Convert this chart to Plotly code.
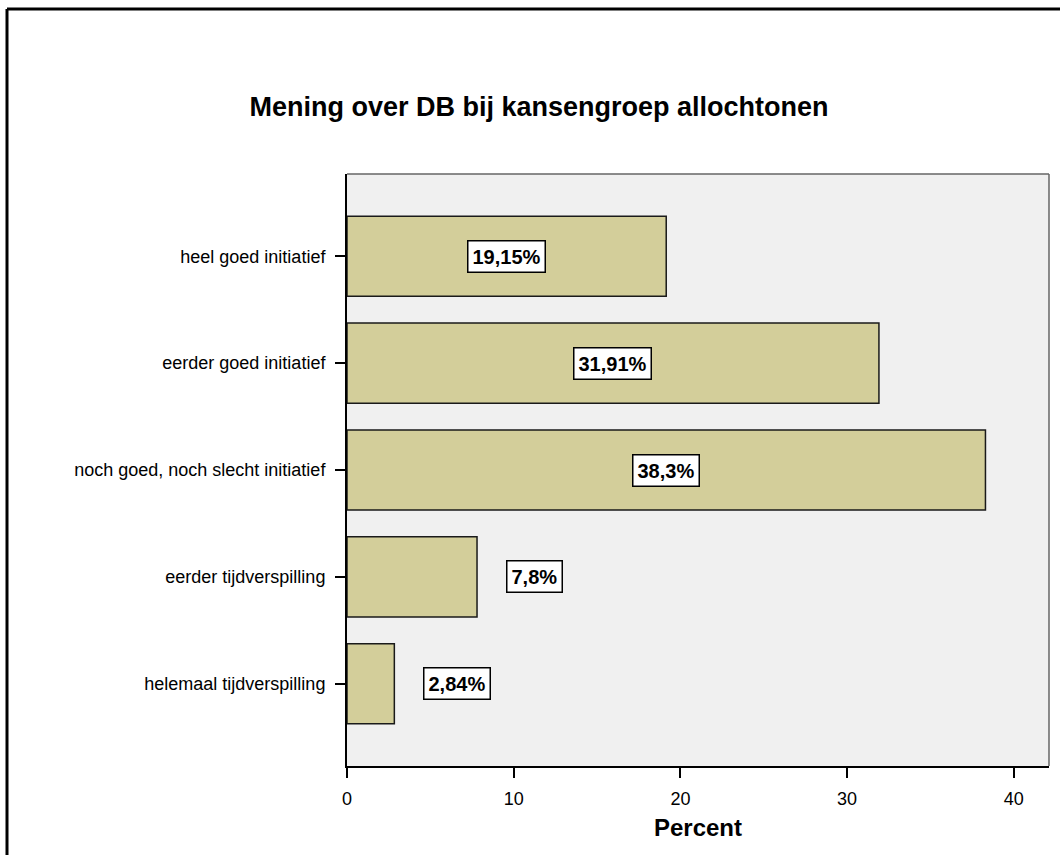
import plotly.graph_objects as go

# Survey answers and their share (percent)
categories = [
    "heel goed initiatief",
    "eerder goed initiatief",
    "noch goed, noch slecht initiatief",
    "eerder tijdverspilling",
    "helemaal tijdverspilling",
]
percent = [19.15, 31.91, 38.3, 7.8, 2.84]
value_labels = ["19,15%", "31,91%", "38,3%", "7,8%", "2,84%"]
x_ticks = [0, 10, 20, 30, 40]

W, H = 1060, 855
L, R, T, B = 347, 11, 174, 89
plot_w = W - L - R
plot_h = H - T - B

BAR_FILL = "#d3ce9a"
FONT = "Liberation Sans, Arial, sans-serif"

fig = go.Figure()
fig.add_trace(go.Bar(
    x=percent,
    y=categories,
    orientation="h",
    width=0.75,
    marker=dict(color=BAR_FILL, line=dict(color="#1a1a1a", width=1.5)),
    hoverinfo="x+y",
    showlegend=False,
))

# Value labels in white boxes: centred on long bars, just right of short ones
for cat, val, txt in zip(categories, percent, value_labels):
    inside = val > 15
    fig.add_annotation(
        x=val / 2 if inside else val,
        y=cat,
        xref="x", yref="y",
        text=f"<b>{txt}</b>",
        showarrow=False,
        xanchor="center" if inside else "left",
        xshift=0 if inside else 29,
        font=dict(family=FONT, size=20, color="black"),
        bgcolor="white",
        bordercolor="black",
        borderwidth=1.5,
        borderpad=4,
    )

x_max = plot_w / 16.67

fig.update_layout(
    width=W, height=H,
    margin=dict(l=L, r=R, t=T, b=B, autoexpand=False),
    paper_bgcolor="white",
    plot_bgcolor="#f0f0f0",
    font=dict(family=FONT, size=18, color="black"),
    title=dict(
        text="<b>Mening over DB bij kansengroep allochtonen</b>",
        font=dict(family=FONT, size=27, color="black"),
        x=539 / W, xanchor="center",
        y=1 - 107 / H, yanchor="middle",
        xref="container", yref="container",
    ),
    xaxis=dict(
        range=[0, x_max],
        tickvals=x_ticks,
        ticks="outside", ticklen=10, tickwidth=2, tickcolor="black",
        showline=True, linecolor="black", linewidth=2,
        showgrid=False, zeroline=False,
        tickfont=dict(family=FONT, size=18, color="black"),
        ticklabelstandoff=5,
        title=dict(text="<b>Percent</b>", font=dict(family=FONT, size=24, color="black"), standoff=12),
    ),
    yaxis=dict(
        type="category",
        categoryorder="array",
        categoryarray=categories,
        range=[4.77, -0.77],
        ticks="outside", ticklen=10, tickwidth=2, tickcolor="black",
        showline=True, linecolor="black", linewidth=2,
        showgrid=False, zeroline=False,
        tickfont=dict(family=FONT, size=18, color="black"),
        ticklabelstandoff=6,
    ),
    bargap=0.25,
)

# Thin grey border on the top and right of the plot area
fig.add_shape(type="line", xref="paper", yref="paper", x0=0, x1=1, y0=1, y1=1,
              line=dict(color="#666666", width=1.5), layer="above")
fig.add_shape(type="line", xref="paper", yref="paper", x0=1, x1=1, y0=0, y1=1,
              line=dict(color="#666666", width=1.5), layer="above")

# Outer frame lines (left and top edges of the chart canvas)
fx = (7 - L) / plot_w
fy = (H - B - 9) / plot_h
fy_bottom = (H - B - H - 20) / plot_h
fx_right = (W + 20 - L) / plot_w
fig.add_shape(type="line", xref="paper", yref="paper", x0=fx, x1=fx, y0=fy_bottom, y1=fy,
              line=dict(color="black", width=3))
fig.add_shape(type="line", xref="paper", yref="paper", x0=fx, x1=fx_right, y0=fy, y1=fy,
              line=dict(color="black", width=3))

fig.write_html("out.html")
